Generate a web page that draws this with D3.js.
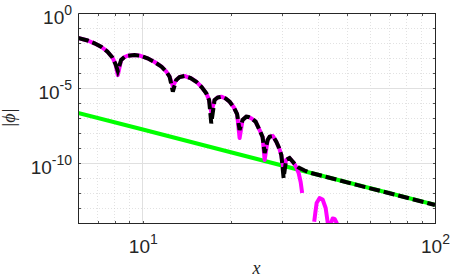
<!DOCTYPE html>
<html>
<head>
<meta charset="utf-8">
<script src="https://cdn.jsdelivr.net/npm/d3@7"></script>
<style>
  body { margin: 0; background: #fff; }
  svg { display: block; font-family: "Liberation Sans", Arial, sans-serif; }
</style>
</head>
<body>
<div id="chart"></div>
<script>
// tick values
const xTicksMajor = [10, 100];
const xTicksMinor = [7, 8, 9, 20, 30, 40, 50, 60, 70, 80, 90];
const yTicksMajor = [1e0, 1e-5, 1e-10];
const yTicksMinor = [1e-1, 1e-2, 1e-3, 1e-4, 1e-6, 1e-7, 1e-8, 1e-9, 1e-11, 1e-12, 1e-13, 1e-14];

// magenta series (oscillating part); 0 = underflow, not drawn on the log axis
const xOsc = [6.0, 6.47, 6.83, 7.22, 7.57, 7.87, 8.06, 8.21, 8.43, 8.66, 8.86, 9.37, 9.82,
  10.38, 10.97, 11.59, 12.06, 12.35, 12.67, 13.01, 13.36, 13.89, 14.57, 15.24, 15.89, 16.49,
  16.86, 17.15, 17.60, 18.03, 18.56, 19.20, 19.82, 20.45, 21.02, 21.44, 21.95, 22.60, 23.01,
  23.57, 24.32, 25.10, 25.70, 26.12, 26.74, 27.16, 27.87, 28.63, 29.27, 29.79, 30.33, 30.93,
  31.79, 32.56, 33.34, 34.14, 34.69, 35.10, 35.51, 38.27, 38.60, 38.95, 39.35, 40.28, 41.25, 42.24,
  42.91, 43.42, 43.77, 43.94, 44.64, 45.35, 46.07, 46.80];
const phiOsc = [2.15e-2, 1.47e-2, 9.5e-3, 5.4e-3, 2.63e-3, 1.08e-3, 4.0e-4, 7.4e-5, 7.4e-4, 1.17e-3, 1.42e-3, 1.58e-3, 1.40e-3,
  9.5e-4, 5.4e-4, 2.63e-4, 1.17e-4, 5.7e-5, 1.36e-5, 3.4e-5, 5.4e-5, 6.3e-5, 4.6e-5, 2.63e-5, 1.17e-5, 4.4e-6,
  1.58e-6, 2.5e-7, 1.58e-6, 2.33e-6, 2.63e-6, 2.0e-6, 1.22e-6, 5.4e-7, 1.85e-7, 4.6e-9, 7.4e-8, 1.22e-7, 1.17e-7,
  9.3e-8, 5.8e-8, 1.58e-8, 5.4e-9, 1.58e-10, 3.4e-9, 5.7e-9, 6.3e-9, 2.63e-9, 1.0e-9, 3.4e-10, 3.4e-11, 1.58e-10,
  2.15e-10, 1.22e-10, 6.3e-11, 2.15e-11, 5.4e-12, 1.0e-12, 0, 0, 1.2e-14, 5.0e-14, 2.15e-13, 4.6e-13, 3.7e-13, 1.0e-13,
  1.17e-14, 1e-15, 1e-15, 8.5e-15, 2.0e-14, 1.85e-14, 1.0e-14, 5e-15];

// black dashed series (total)
const xTotal = [6.0, 6.47, 6.83, 7.22, 7.57, 7.87, 8.06, 8.21, 8.43, 8.66, 8.86, 9.37, 9.82,
  10.38, 10.97, 11.59, 12.06, 12.35, 12.67, 13.01, 13.36, 13.89, 14.57, 15.24, 15.89, 16.49,
  16.86, 17.15, 17.60, 18.03, 18.56, 19.20, 19.82, 20.45, 21.02, 21.44, 21.95, 22.60, 23.01,
  23.57, 24.32, 25.10, 25.70, 26.12, 26.74, 27.16, 27.87, 28.63, 29.27, 29.79, 30.33, 30.93,
  31.79, 32.56, 33.34, 34.14, 35.79, 37.23, 55.23, 100];
const phiTotal = [2.15e-2, 1.47e-2, 9.5e-3, 5.4e-3, 2.63e-3, 1.08e-3, 4.0e-4, 1.36e-4, 7.4e-4, 1.17e-3, 1.42e-3, 1.58e-3, 1.40e-3,
  9.5e-4, 5.4e-4, 2.63e-4, 1.17e-4, 5.7e-5, 5.7e-6, 3.4e-5, 5.4e-5, 6.3e-5, 4.6e-5, 2.63e-5, 1.17e-5, 4.4e-6,
  1.58e-6, 4.4e-8, 1.58e-6, 2.33e-6, 2.63e-6, 2.0e-6, 1.22e-6, 5.4e-7, 1.85e-7, 1.58e-8, 7.4e-8, 1.22e-7, 1.17e-7,
  9.3e-8, 5.8e-8, 1.58e-8, 5.4e-9, 4.6e-10, 3.4e-9, 5.7e-9, 6.3e-9, 2.63e-9, 1.0e-9, 3.4e-10, 1.0e-11, 1.58e-10,
  2.15e-10, 1.25e-10, 7.4e-11, 5.0e-11, 3.16e-11, 2.3e-11, 3.1e-12, 1.6e-13];

// green series (power-law tail)
const xTail = [6, 10, 20, 50, 100];
const phiTail = [2.2e-7, 1.7e-8, 5.2e-10, 5.2e-12, 1.6e-13];

const margin = { top: 13, right: 16, bottom: 55, left: 78 };
const width = 451 - margin.left - margin.right;
const height = 278 - margin.top - margin.bottom;
const axisColor = "#262626";
const tickLen = 2.5;

const svg = d3.select("#chart")
  .append("svg")
    .attr("width", 451)
    .attr("height", 278);

svg.append("rect").attr("width", 451).attr("height", 278).attr("fill", "#fff");

const g = svg.append("g")
  .attr("transform", `translate(${margin.left},${margin.top})`);

const x = d3.scaleLog().domain([6, 100]).range([0, width]);
const y = d3.scaleLog().domain([1e-14, 1]).range([height, 0]);

// grid: minor dotted, major solid
const grid = g.append("g").attr("shape-rendering", "crispEdges");
grid.selectAll(".xminor").data(xTicksMinor).join("line")
  .attr("x1", d => x(d)).attr("x2", d => x(d))
  .attr("y1", 0).attr("y2", height)
  .attr("stroke", "#cfcfcf").attr("stroke-width", 0.6).attr("stroke-dasharray", "1,2");
grid.selectAll(".yminor").data(yTicksMinor).join("line")
  .attr("x1", 0).attr("x2", width)
  .attr("y1", d => y(d)).attr("y2", d => y(d))
  .attr("stroke", "#cfcfcf").attr("stroke-width", 0.6).attr("stroke-dasharray", "1,2");
grid.selectAll(".xmajor").data(xTicksMajor).join("line")
  .attr("x1", d => x(d)).attr("x2", d => x(d))
  .attr("y1", 0).attr("y2", height)
  .attr("stroke", "#e0e0e0").attr("stroke-width", 1);
grid.selectAll(".ymajor").data(yTicksMajor).join("line")
  .attr("x1", 0).attr("x2", width)
  .attr("y1", d => y(d)).attr("y2", d => y(d))
  .attr("stroke", "#e0e0e0").attr("stroke-width", 1);

// curves, clipped to the plot box
svg.append("defs").append("clipPath").attr("id", "clip")
  .append("rect").attr("width", width).attr("height", height);

const plot = g.append("g").attr("clip-path", "url(#clip)");
const line = d3.line()
  .defined(d => d[1] > 0)
  .x(d => x(d[0])).y(d => y(d[1]));

plot.append("path")
  .datum(xTail.map((v, i) => [v, phiTail[i]]))
  .attr("d", line)
  .attr("fill", "none").attr("stroke", "#00ff00").attr("stroke-width", 4);

plot.append("path")
  .datum(xOsc.map((v, i) => [v, phiOsc[i]]))
  .attr("d", line)
  .attr("fill", "none").attr("stroke", "#ff00ff").attr("stroke-width", 4)
  .attr("stroke-linejoin", "round");

plot.append("path")
  .datum(xTotal.map((v, i) => [v, phiTotal[i]]))
  .attr("d", line)
  .attr("fill", "none").attr("stroke", "#000").attr("stroke-width", 4)
  .attr("stroke-dasharray", "11,4");

// axes (ticks inward, box all round)
function styleAxis(sel) {
  sel.select(".domain").attr("stroke", axisColor).attr("stroke-width", 1);
  sel.selectAll(".tick line").attr("stroke", axisColor).attr("stroke-width", 0.8);
  sel.attr("shape-rendering", "crispEdges");
}

const xAll = xTicksMajor.concat(xTicksMinor);
const yAll = yTicksMajor.concat(yTicksMinor);

const xBottom = g.append("g").attr("transform", `translate(0,${height})`)
  .call(d3.axisBottom(x).tickValues(xAll).tickSize(-tickLen).tickSizeOuter(0).tickFormat(""))
  .call(styleAxis);
g.append("g")
  .call(d3.axisTop(x).tickValues(xAll).tickSize(-tickLen).tickSizeOuter(0).tickFormat(""))
  .call(styleAxis);
const yLeft = g.append("g")
  .call(d3.axisLeft(y).tickValues(yAll).tickSize(-tickLen).tickSizeOuter(0).tickFormat(""))
  .call(styleAxis);
g.append("g").attr("transform", `translate(${width},0)`)
  .call(d3.axisRight(y).tickValues(yAll).tickSize(-tickLen).tickSizeOuter(0).tickFormat(""))
  .call(styleAxis);

// power-of-ten labels with superscripts
function powLabel(text, d) {
  const e = Math.round(Math.log10(d));
  text.text(null).attr("fill", axisColor).attr("font-size", 19).attr("dy", null);
  text.append("tspan").text("10");
  text.append("tspan").attr("dy", -9).attr("font-size", 14).text(e);
}

xBottom.selectAll(".tick").filter(d => xTicksMajor.includes(d)).select("text")
  .each(function(d) { powLabel(d3.select(this), d); })
  .attr("y", 30).attr("text-anchor", "middle");

yLeft.selectAll(".tick").filter(d => yTicksMajor.includes(d)).select("text")
  .each(function(d) { powLabel(d3.select(this), d); })
  .attr("x", -6).attr("y", 10).attr("text-anchor", "end");

// axis titles
svg.append("text")
  .attr("x", margin.left + width / 2).attr("y", 274)
  .attr("text-anchor", "middle")
  .attr("font-family", "'Liberation Serif', 'Times New Roman', serif")
  .attr("font-style", "italic").attr("font-size", 18).attr("fill", axisColor)
  .text("x");

svg.append("text")
  .attr("transform", `translate(15,${margin.top + height / 2}) rotate(-90)`)
  .attr("text-anchor", "middle")
  .attr("font-family", "'Liberation Serif', 'Times New Roman', serif")
  .attr("font-style", "italic").attr("font-size", 18).attr("fill", axisColor)
  .text("|ϕ|");
</script>
</body>
</html>
